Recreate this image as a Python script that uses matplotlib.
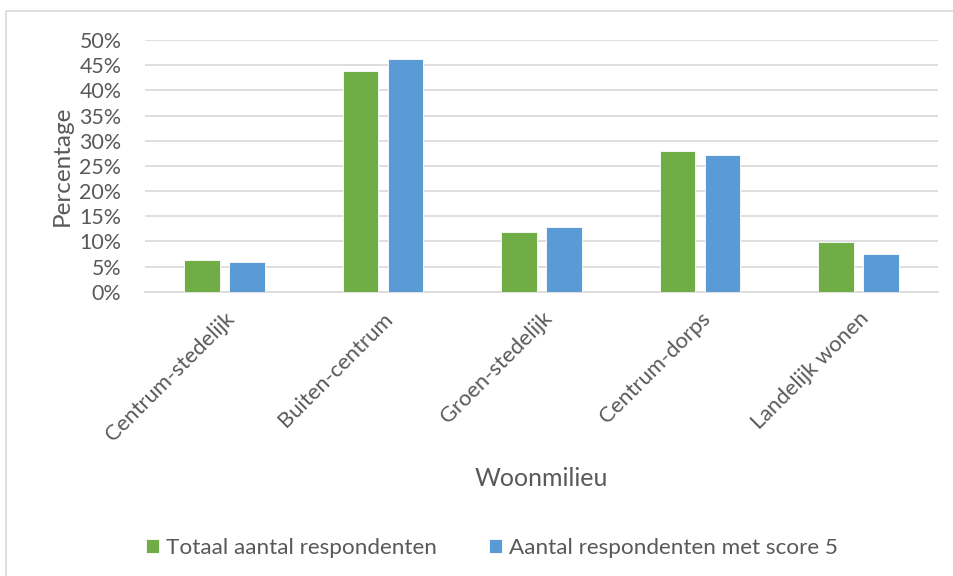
import matplotlib
matplotlib.use("Agg")
import matplotlib.pyplot as plt
import matplotlib.patches as patches
import numpy as np

plt.rcParams["font.family"] = ["Lato", "DejaVu Sans"]

CATEGORIES = ["Centrum-stedelijk", "Buiten-centrum", "Groen-stedelijk",
              "Centrum-dorps", "Landelijk wonen"]
TOTAAL = [6.3, 43.9, 11.9, 27.9, 9.8]
SCORE_5 = [5.9, 46.2, 12.9, 27.2, 7.4]
SERIES_NAMES = ["Totaal aantal respondenten",
                "Aantal respondenten met score 5"]
Y_TICKS = [0, 5, 10, 15, 20, 25, 30, 35, 40, 45, 50]

GREEN = "#70AD47"
BLUE = "#5B9BD5"
TEXT = "#595959"
GRID = "#D9D9D9"


def main():
    fig = plt.figure(figsize=(9.54, 5.76), dpi=100)
    W, H = 954, 576

    # chart-area frame (only left and top edge fall inside the image)
    frame = patches.Rectangle((6.5 / W, -0.1), 1.2, 1 - 10.5 / H + 0.1,
                              transform=fig.transFigure, fill=False,
                              edgecolor=GRID, linewidth=1.2)
    fig.add_artist(frame)

    left, right = 145 / W, 938 / W
    top, bottom = 1 - 40 / H, 1 - 291.7 / H
    ax = fig.add_axes([left, bottom, right - left, top - bottom])

    x = np.arange(len(CATEGORIES))
    width = 0.224
    off = 0.142
    ax.bar(x - off, TOTAAL, width, color=GREEN, edgecolor="white",
           linewidth=0.6, label=SERIES_NAMES[0], zorder=3)
    ax.bar(x + off, SCORE_5, width, color=BLUE, edgecolor="white",
           linewidth=0.6, label=SERIES_NAMES[1], zorder=3)

    ax.set_xlim(-0.5, len(CATEGORIES) - 0.5)
    ax.set_ylim(0, 50)
    ax.set_yticks(Y_TICKS)
    ax.set_yticklabels([f"{t}%" for t in Y_TICKS])
    ax.yaxis.grid(True, color=GRID, linewidth=1.2, zorder=0)
    ax.set_axisbelow(True)
    for s in ["top", "right", "left"]:
        ax.spines[s].set_visible(False)
    ax.spines["bottom"].set_color(GRID)
    ax.spines["bottom"].set_linewidth(1.2)

    ax.tick_params(axis="y", length=0, pad=17, labelsize=15.4,
                   labelcolor=TEXT)
    ax.tick_params(axis="x", length=0, pad=12, labelsize=15.8,
                   labelcolor=TEXT)
    ax.set_xticks(x)
    ax.set_xticklabels(CATEGORIES, rotation=45, ha="right",
                       rotation_mode="anchor")

    ax.set_ylabel("Percentage", fontsize=17.5, color=TEXT, labelpad=5)
    fig.text((left + right) / 2, 1 - 478 / H, "Woonmilieu", fontsize=18,
             color=TEXT, ha="center", va="center")

    leg = fig.legend(loc="center", bbox_to_anchor=(492 / W, 1 - 548 / H),
                     ncol=2, frameon=False, fontsize=16.2, handlelength=0.6,
                     handleheight=0.6, handletextpad=0.3, columnspacing=2.3)
    for t in leg.get_texts():
        t.set_color(TEXT)

    fig.savefig("out.png", dpi=100)


if __name__ == "__main__":
    main()
